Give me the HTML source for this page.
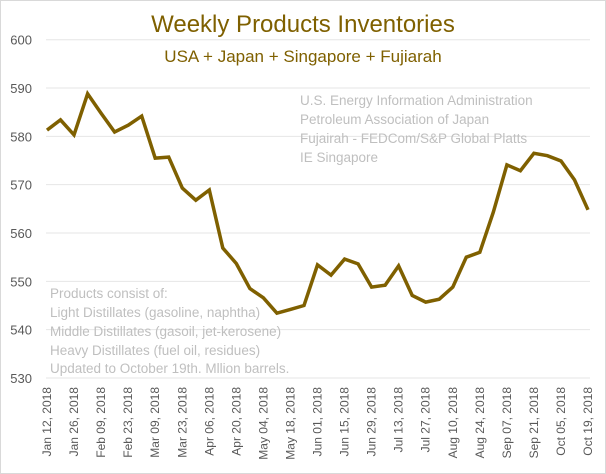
<!DOCTYPE html>
<html><head><meta charset="utf-8"><style>
body{margin:0;background:#fff;}
svg{display:block;font-family:"Liberation Sans",sans-serif;}
</style></head><body>
<svg id="chart" width="606" height="474" viewBox="0 0 606 474">
<rect x="0.5" y="0.5" width="605" height="473" fill="#fff" stroke="#d9d9d9"/>
<text x="303" y="32" text-anchor="middle" font-size="24" fill="#7f6000">Weekly Products Inventories</text>
<text x="303" y="62" text-anchor="middle" font-size="17" fill="#7f6000">USA + Japan + Singapore + Fujiarah</text>
<g id="grid"></g><g id="yticks"></g><g id="xticks"></g>
<g font-size="13.5" fill="#bfbfbf">
<text x="300" y="105">U.S. Energy Information Administration</text>
<text x="300" y="124">Petroleum Association of Japan</text>
<text x="300" y="143">Fujairah - FEDCom/S&amp;P Global Platts</text>
<text x="300" y="162">IE Singapore</text>
</g>
<g font-size="13.5" fill="#bfbfbf">
<text x="50" y="298">Products consist of:</text>
<text x="50" y="317">Light Distillates (gasoline, naphtha)</text>
<text x="50" y="336">Middle Distillates (gasoil, jet-kerosene)</text>
<text x="50" y="355">Heavy Distillates (fuel oil, residues)</text>
<text x="50" y="373">Updated to October 19th. Mllion barrels.</text>
</g>
<path id="line" fill="none" stroke="#7f6000" stroke-width="3.5" stroke-linejoin="miter"/>
</svg>
<script>
const values=[581.3,583.4,580.3,588.8,584.8,580.9,582.3,584.2,575.5,575.7,569.3,566.8,568.9,556.9,553.7,548.5,546.6,543.4,544.2,545,553.4,551.3,554.6,553.6,548.8,549.2,553.2,547.1,545.7,546.3,548.8,555,556,564.3,574.1,572.9,576.5,576,574.9,571,564.8];
const xLabels=["Jan 12, 2018","Jan 26, 2018","Feb 09, 2018","Feb 23, 2018","Mar 09, 2018","Mar 23, 2018","Apr 06, 2018","Apr 20, 2018","May 04, 2018","May 18, 2018","Jun 01, 2018","Jun 15, 2018","Jun 29, 2018","Jul 13, 2018","Jul 27, 2018","Aug 10, 2018","Aug 24, 2018","Sep 07, 2018","Sep 21, 2018","Oct 05, 2018","Oct 19, 2018"];
const yTicks=[530,540,550,560,570,580,590,600];
const NS="http://www.w3.org/2000/svg";
const x0=47,x1=588,yTop=39.7,yBot=378;
const xs=i=>x0+(x1-x0)*i/(values.length-1);
const ys=v=>yBot-(v-530)/(600-530)*(yBot-yTop);
const grid=document.getElementById('grid'),yt=document.getElementById('yticks'),xt=document.getElementById('xticks');
yTicks.forEach(t=>{
 const l=document.createElementNS(NS,'line');
 
 
 l.setAttribute('x1',x0-1);l.setAttribute('x2',x1+2);l.setAttribute('y1',ys(t));l.setAttribute('y2',ys(t));
 l.setAttribute('stroke','#e6e6e6');l.setAttribute('stroke-width','1');grid.appendChild(l);
 const tx=document.createElementNS(NS,'text');
 
 
 tx.setAttribute('x',32);tx.setAttribute('y',ys(t)+5);tx.setAttribute('text-anchor','end');
 tx.setAttribute('font-size','13');tx.setAttribute('fill','#595959');tx.textContent=t;yt.appendChild(tx);
});
xLabels.forEach((s,j)=>{
 const x=xs(j*2);
 const tx=document.createElementNS(NS,'text');
 
 
 tx.setAttribute('transform','translate('+(x+4)+',387) rotate(-90)');
 tx.setAttribute('text-anchor','end');tx.setAttribute('font-size','12');tx.setAttribute('fill','#595959');
 tx.textContent=s;xt.appendChild(tx);
});
document.getElementById('line').setAttribute('d',values.map((v,i)=>(i?'L':'M')+xs(i).toFixed(1)+','+ys(v).toFixed(1)).join(''));
</script>
</body></html>
